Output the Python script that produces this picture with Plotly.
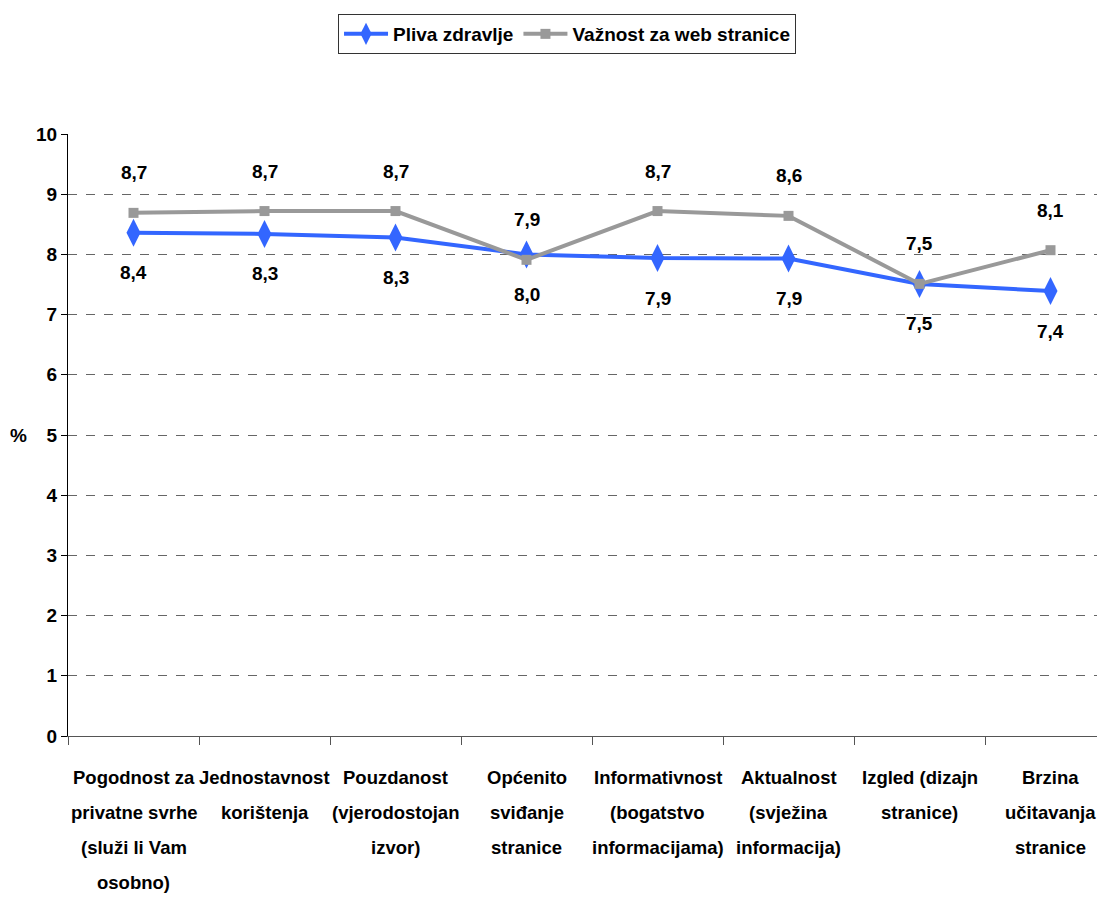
import plotly.graph_objects as go

categories = [
    "Pogodnost za\nprivatne svrhe\n(služi li Vam\nosobno)",
    "Jednostavnost\nkorištenja",
    "Pouzdanost\n(vjerodostojan\nizvor)",
    "Općenito\nsviđanje\nstranice",
    "Informativnost\n(bogatstvo\ninformacijama)",
    "Aktualnost\n(svježina\ninformacija)",
    "Izgled (dizajn\nstranice)",
    "Brzina\nučitavanja\nstranice",
]
pliva = [8.36, 8.34, 8.28, 8.00, 7.94, 7.93, 7.51, 7.39]
vaznost = [8.69, 8.72, 8.72, 7.91, 8.72, 8.64, 7.51, 8.07]
y_ticks = list(range(0, 11))

FONT = "Liberation Sans, Arial, sans-serif"
BLUE = "#3366FF"
GRAY = "#999999"
FS = 18.5

x_idx = list(range(len(categories)))

fig = go.Figure()
fig.add_trace(go.Scatter(
    x=x_idx, y=pliva, mode="lines+markers", name="Pliva zdravlje",
    line=dict(color=BLUE, width=4),
    marker=dict(symbol="diamond-tall", size=20, color=BLUE),
))
fig.add_trace(go.Scatter(
    x=x_idx, y=vaznost, mode="lines+markers", name="Važnost za web stranice",
    line=dict(color=GRAY, width=4),
    marker=dict(symbol="square", size=10, color=GRAY),
))

def fmt(v):
    return f"{v:.1f}".replace(".", ",")

lab_font = dict(family=FONT, size=19, color="black", weight="bold")
annotations = []
for i, v in enumerate(pliva):
    annotations.append(dict(x=i, y=v, xref="x", yref="y", text=fmt(v), showarrow=False,
                            yshift=-40, font=lab_font))
for i, v in enumerate(vaznost):
    annotations.append(dict(x=i, y=v, xref="x", yref="y", text=fmt(v), showarrow=False,
                            yshift=40, font=lab_font))
# category labels, line by line
for i, lab in enumerate(categories):
    for j, line in enumerate(lab.split("\n")):
        annotations.append(dict(x=i, y=0, xref="x", yref="y", text=line, showarrow=False,
                                yshift=-41 - 35 * j,
                                font=dict(family=FONT, size=FS, color="black", weight="bold")))
annotations.append(dict(x=-0.048, y=0.5, xref="paper", yref="paper", text="%", showarrow=False,
                        xanchor="center", yanchor="middle",
                        font=dict(family=FONT, size=19, color="black", weight="bold")))

fig.update_layout(
    width=1097, height=898,
    margin=dict(l=60, r=0, t=126, b=170),
    paper_bgcolor="white", plot_bgcolor="white",
    font=dict(family=FONT, size=FS, color="black", weight="bold"),
    showlegend=True,
    legend=dict(orientation="h", xref="container", yref="container",
                x=0.5096, xanchor="center", y=0.9933, yanchor="top",
                bordercolor="#333333", borderwidth=1, bgcolor="white",
                font=dict(family=FONT, size=19, color="black", weight="bold"),
                itemwidth=44),
    annotations=annotations,
)
fig.update_xaxes(
    range=[-0.5, 7.416], tickmode="array", tickvals=[i - 0.5 for i in x_idx] + [7.5],
    ticktext=[""] * (len(x_idx) + 1),
    showgrid=False, zeroline=False, showline=True, linecolor="#555555", linewidth=1,
    ticks="outside", ticklen=8, tickcolor="#555555",
)
fig.update_yaxes(
    range=[0, 10], tickmode="array", tickvals=y_ticks,
    showgrid=True, gridcolor="#666666", griddash="dash", gridwidth=1,
    zeroline=False, showline=True, linecolor="black", linewidth=1,
    ticks="outside", ticklen=6, tickcolor="black",
    tickfont=dict(family=FONT, size=19, color="black", weight="bold"),
)

fig.write_html("out.html")
